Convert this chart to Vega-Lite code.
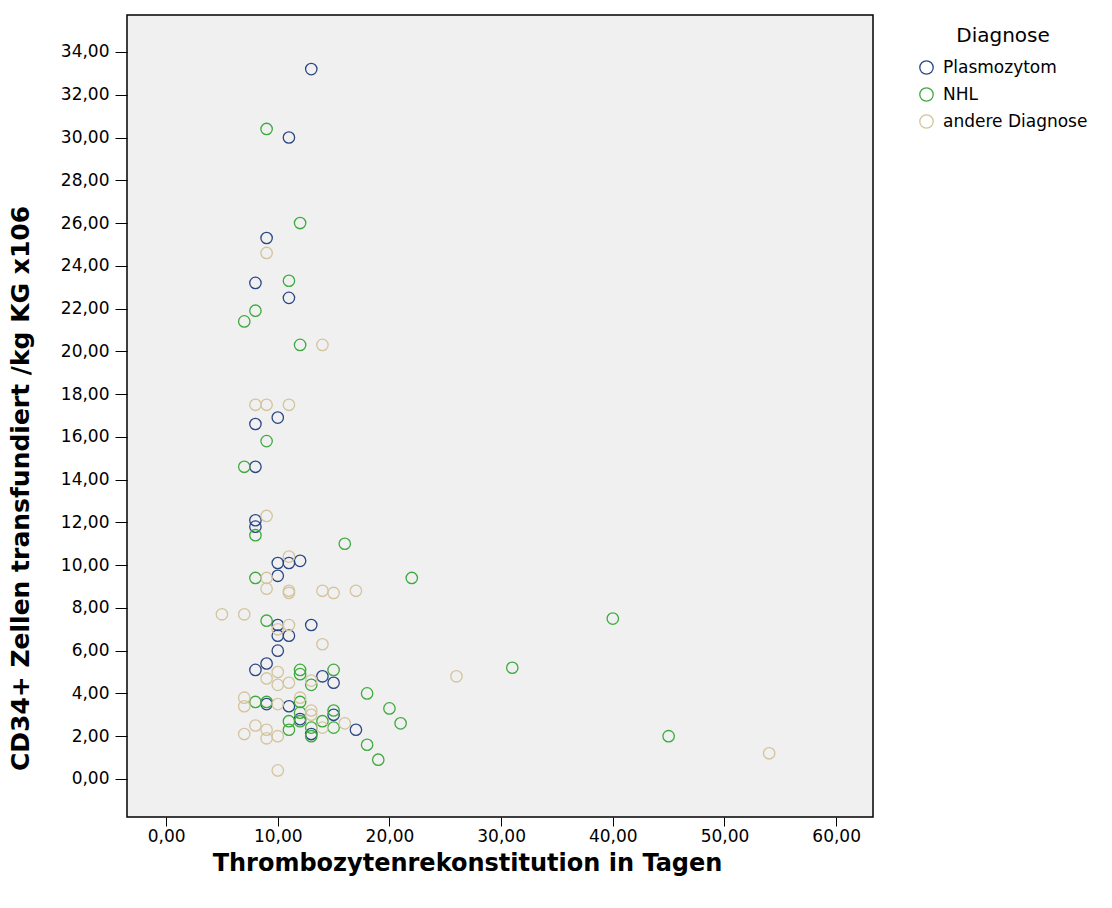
{
  "$schema": "https://vega.github.io/schema/vega-lite/v6.json",
  "width": 746,
  "height": 802,
  "autosize": {"type": "none"},
  "padding": {"left": 127, "top": 15, "right": 239, "bottom": 91},
  "background": "#ffffff",
  "config": {
    "view": {"fill": "#f0f0f0", "stroke": "#000000", "strokeWidth": 1.5},
    "font": "DejaVu Sans"
  },
  "data": {
    "values": [
      {"diag": "Plasmozytom", "tage": 13, "cd34": 33.2},
      {"diag": "Plasmozytom", "tage": 11, "cd34": 30.0},
      {"diag": "Plasmozytom", "tage": 9, "cd34": 25.3},
      {"diag": "Plasmozytom", "tage": 8, "cd34": 23.2},
      {"diag": "Plasmozytom", "tage": 11, "cd34": 22.5},
      {"diag": "Plasmozytom", "tage": 10, "cd34": 16.9},
      {"diag": "Plasmozytom", "tage": 8, "cd34": 16.6},
      {"diag": "Plasmozytom", "tage": 8, "cd34": 14.6},
      {"diag": "Plasmozytom", "tage": 8, "cd34": 12.1},
      {"diag": "Plasmozytom", "tage": 8, "cd34": 11.8},
      {"diag": "Plasmozytom", "tage": 10, "cd34": 10.1},
      {"diag": "Plasmozytom", "tage": 11, "cd34": 10.1},
      {"diag": "Plasmozytom", "tage": 12, "cd34": 10.2},
      {"diag": "Plasmozytom", "tage": 10, "cd34": 9.5},
      {"diag": "Plasmozytom", "tage": 13, "cd34": 7.2},
      {"diag": "Plasmozytom", "tage": 10, "cd34": 7.2},
      {"diag": "Plasmozytom", "tage": 10, "cd34": 6.7},
      {"diag": "Plasmozytom", "tage": 11, "cd34": 6.7},
      {"diag": "Plasmozytom", "tage": 10, "cd34": 6.0},
      {"diag": "Plasmozytom", "tage": 9, "cd34": 5.4},
      {"diag": "Plasmozytom", "tage": 8, "cd34": 5.1},
      {"diag": "Plasmozytom", "tage": 14, "cd34": 4.8},
      {"diag": "Plasmozytom", "tage": 15, "cd34": 4.5},
      {"diag": "Plasmozytom", "tage": 9, "cd34": 3.5},
      {"diag": "Plasmozytom", "tage": 11, "cd34": 3.4},
      {"diag": "Plasmozytom", "tage": 15, "cd34": 3.0},
      {"diag": "Plasmozytom", "tage": 17, "cd34": 2.3},
      {"diag": "Plasmozytom", "tage": 13, "cd34": 2.1},
      {"diag": "Plasmozytom", "tage": 12, "cd34": 2.8},
      {"diag": "NHL", "tage": 9, "cd34": 30.4},
      {"diag": "NHL", "tage": 12, "cd34": 26.0},
      {"diag": "NHL", "tage": 11, "cd34": 23.3},
      {"diag": "NHL", "tage": 8, "cd34": 21.9},
      {"diag": "NHL", "tage": 7, "cd34": 21.4},
      {"diag": "NHL", "tage": 12, "cd34": 20.3},
      {"diag": "NHL", "tage": 9, "cd34": 15.8},
      {"diag": "NHL", "tage": 7, "cd34": 14.6},
      {"diag": "NHL", "tage": 8, "cd34": 11.4},
      {"diag": "NHL", "tage": 16, "cd34": 11.0},
      {"diag": "NHL", "tage": 8, "cd34": 9.4},
      {"diag": "NHL", "tage": 22, "cd34": 9.4},
      {"diag": "NHL", "tage": 40, "cd34": 7.5},
      {"diag": "NHL", "tage": 9, "cd34": 7.4},
      {"diag": "NHL", "tage": 31, "cd34": 5.2},
      {"diag": "NHL", "tage": 15, "cd34": 5.1},
      {"diag": "NHL", "tage": 12, "cd34": 5.1},
      {"diag": "NHL", "tage": 12, "cd34": 4.9},
      {"diag": "NHL", "tage": 13, "cd34": 4.4},
      {"diag": "NHL", "tage": 18, "cd34": 4.0},
      {"diag": "NHL", "tage": 20, "cd34": 3.3},
      {"diag": "NHL", "tage": 15, "cd34": 3.2},
      {"diag": "NHL", "tage": 21, "cd34": 2.6},
      {"diag": "NHL", "tage": 8, "cd34": 3.6},
      {"diag": "NHL", "tage": 9, "cd34": 3.6},
      {"diag": "NHL", "tage": 12, "cd34": 3.6},
      {"diag": "NHL", "tage": 12, "cd34": 3.1},
      {"diag": "NHL", "tage": 11, "cd34": 2.7},
      {"diag": "NHL", "tage": 12, "cd34": 2.7},
      {"diag": "NHL", "tage": 13, "cd34": 2.4},
      {"diag": "NHL", "tage": 14, "cd34": 2.7},
      {"diag": "NHL", "tage": 15, "cd34": 2.4},
      {"diag": "NHL", "tage": 11, "cd34": 2.3},
      {"diag": "NHL", "tage": 13, "cd34": 2.0},
      {"diag": "NHL", "tage": 18, "cd34": 1.6},
      {"diag": "NHL", "tage": 19, "cd34": 0.9},
      {"diag": "NHL", "tage": 45, "cd34": 2.0},
      {"diag": "andere Diagnose", "tage": 9, "cd34": 24.6},
      {"diag": "andere Diagnose", "tage": 14, "cd34": 20.3},
      {"diag": "andere Diagnose", "tage": 8, "cd34": 17.5},
      {"diag": "andere Diagnose", "tage": 9, "cd34": 17.5},
      {"diag": "andere Diagnose", "tage": 11, "cd34": 17.5},
      {"diag": "andere Diagnose", "tage": 9, "cd34": 12.3},
      {"diag": "andere Diagnose", "tage": 11, "cd34": 10.4},
      {"diag": "andere Diagnose", "tage": 9, "cd34": 9.4},
      {"diag": "andere Diagnose", "tage": 9, "cd34": 8.9},
      {"diag": "andere Diagnose", "tage": 11, "cd34": 8.8},
      {"diag": "andere Diagnose", "tage": 11, "cd34": 8.7},
      {"diag": "andere Diagnose", "tage": 14, "cd34": 8.8},
      {"diag": "andere Diagnose", "tage": 15, "cd34": 8.7},
      {"diag": "andere Diagnose", "tage": 17, "cd34": 8.8},
      {"diag": "andere Diagnose", "tage": 5, "cd34": 7.7},
      {"diag": "andere Diagnose", "tage": 7, "cd34": 7.7},
      {"diag": "andere Diagnose", "tage": 11, "cd34": 7.2},
      {"diag": "andere Diagnose", "tage": 10, "cd34": 7.0},
      {"diag": "andere Diagnose", "tage": 14, "cd34": 6.3},
      {"diag": "andere Diagnose", "tage": 10, "cd34": 5.0},
      {"diag": "andere Diagnose", "tage": 26, "cd34": 4.8},
      {"diag": "andere Diagnose", "tage": 9, "cd34": 4.7},
      {"diag": "andere Diagnose", "tage": 10, "cd34": 4.4},
      {"diag": "andere Diagnose", "tage": 11, "cd34": 4.5},
      {"diag": "andere Diagnose", "tage": 13, "cd34": 4.6},
      {"diag": "andere Diagnose", "tage": 7, "cd34": 3.8},
      {"diag": "andere Diagnose", "tage": 7, "cd34": 3.4},
      {"diag": "andere Diagnose", "tage": 10, "cd34": 3.5},
      {"diag": "andere Diagnose", "tage": 12, "cd34": 3.8},
      {"diag": "andere Diagnose", "tage": 13, "cd34": 3.2},
      {"diag": "andere Diagnose", "tage": 13, "cd34": 3.0},
      {"diag": "andere Diagnose", "tage": 14, "cd34": 2.4},
      {"diag": "andere Diagnose", "tage": 16, "cd34": 2.6},
      {"diag": "andere Diagnose", "tage": 8, "cd34": 2.5},
      {"diag": "andere Diagnose", "tage": 9, "cd34": 2.3},
      {"diag": "andere Diagnose", "tage": 7, "cd34": 2.1},
      {"diag": "andere Diagnose", "tage": 9, "cd34": 1.9},
      {"diag": "andere Diagnose", "tage": 10, "cd34": 2.0},
      {"diag": "andere Diagnose", "tage": 10, "cd34": 0.4},
      {"diag": "andere Diagnose", "tage": 54, "cd34": 1.2}
    ]
  },
  "mark": {"type": "point", "shape": "circle", "filled": false, "size": 130, "strokeWidth": 1.3, "opacity": 1},
  "encoding": {
    "x": {
      "field": "tage", "type": "quantitative",
      "scale": {"domain": [-3.5, 63.3], "nice": false, "zero": false},
      "axis": {
        "title": "Thrombozytenrekonstitution in Tagen",
        "titleFont": "DejaVu Sans", "titleFontWeight": "bold", "titleFontSize": 24, "titleColor": "#000000",
        "titleX": 340, "titleY": 46, "titleAnchor": "middle", "titleAlign": "center", "titleBaseline": "middle",
        "values": [0, 10, 20, 30, 40, 50, 60],
        "labelExpr": "replace(format(datum.value, '.2f'), '.', ',')",
        "labelFont": "DejaVu Sans", "labelFontSize": 17, "labelColor": "#000000",
        "labelPadding": 2, "tickSize": 9, "tickColor": "#000000", "tickWidth": 1,
        "domain": false, "grid": false
      }
    },
    "y": {
      "field": "cd34", "type": "quantitative",
      "scale": {"domain": [-1.78, 35.73], "nice": false, "zero": false},
      "axis": {
        "title": "CD34+ Zellen transfundiert /kg KG x106",
        "titleFont": "DejaVu Sans", "titleFontWeight": "bold", "titleFontSize": 25, "titleColor": "#000000",
        "titleX": -107, "titleY": 473, "titleAngle": -90, "titleAlign": "center", "titleBaseline": "middle",
        "values": [0, 2, 4, 6, 8, 10, 12, 14, 16, 18, 20, 22, 24, 26, 28, 30, 32, 34],
        "labelExpr": "replace(format(datum.value, '.2f'), '.', ',')",
        "labelFont": "DejaVu Sans", "labelFontSize": 17, "labelColor": "#000000",
        "labelPadding": 6, "tickSize": 12, "tickColor": "#000000", "tickWidth": 1,
        "domain": false, "grid": false
      }
    },
    "color": {
      "field": "diag", "type": "nominal",
      "scale": {
        "domain": ["Plasmozytom", "NHL", "andere Diagnose"],
        "range": ["#2b4684", "#3daa3d", "#d4c49e"]
      },
      "legend": {
        "title": "Diagnose",
        "orient": "none", "legendX": 791, "legendY": 11,
        "titleFont": "DejaVu Sans", "titleFontSize": 20, "titleFontWeight": "normal", "titleColor": "#000000",
        "titleAnchor": "middle", "titlePadding": 13,
        "labelFont": "DejaVu Sans", "labelFontSize": 17, "labelColor": "#000000",
        "symbolType": "circle", "symbolSize": 180, "symbolStrokeWidth": 1.3, "symbolFillColor": "transparent",
        "rowPadding": 8, "labelOffset": 8, "padding": 0
      }
    }
  }
}
